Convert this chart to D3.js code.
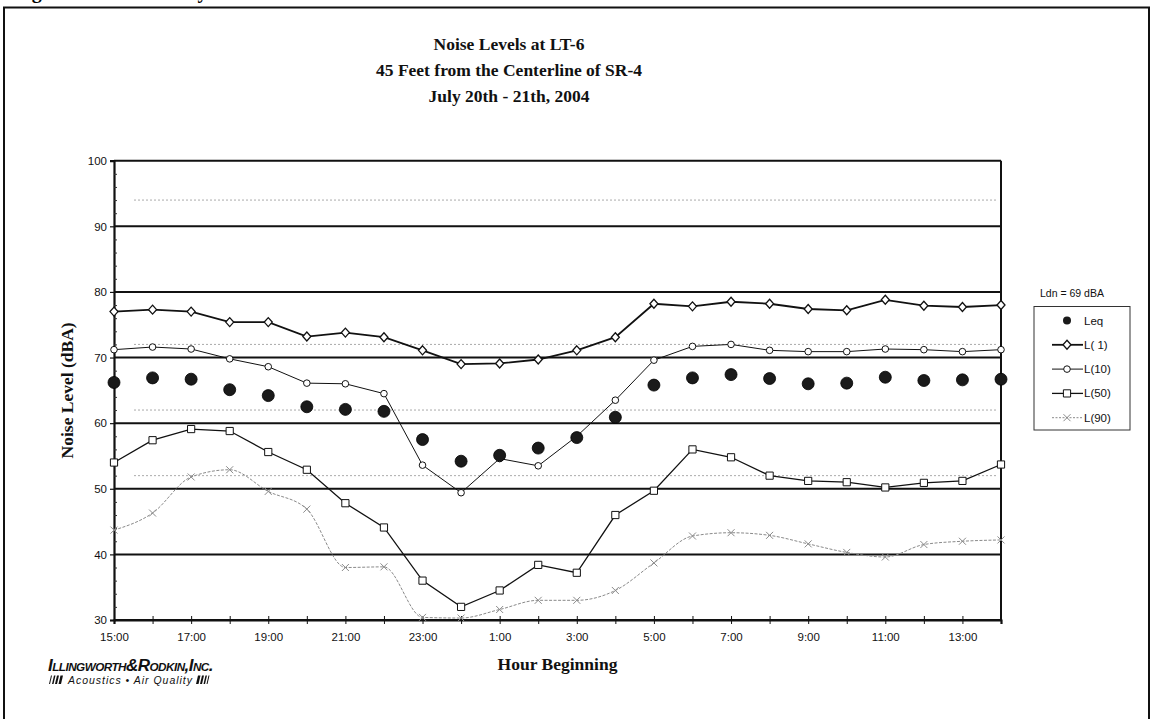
<!DOCTYPE html>
<html><head><meta charset="utf-8">
<script src="https://cdn.jsdelivr.net/npm/d3@7"></script>
<style>
html,body{margin:0;padding:0;background:#fff;}
svg{display:block;}
</style></head>
<body>
<svg id="c" width="1151" height="719"></svg>
<script>
const hours = ["15:00","16:00","17:00","18:00","19:00","20:00","21:00","22:00","23:00","0:00","1:00","2:00","3:00","4:00","5:00","6:00","7:00","8:00","9:00","10:00","11:00","12:00","13:00","14:00"];
const xTickLabels = ["15:00","17:00","19:00","21:00","23:00","1:00","3:00","5:00","7:00","9:00","11:00","13:00"];
const yTicks = [30,40,50,60,70,80,90,100];
const dottedLevels = [94,72,62,52];
const leq  = [66.2,66.9,66.7,65.1,64.2,62.5,62.1,61.8,57.5,54.2,55.1,56.2,57.8,60.9,65.8,66.9,67.4,66.8,66.0,66.1,67.0,66.5,66.6,66.7];
const l1   = [77.0,77.3,77.0,75.4,75.4,73.2,73.8,73.1,71.1,69.0,69.1,69.7,71.1,73.1,78.2,77.8,78.5,78.2,77.4,77.2,78.8,77.9,77.7,78.0];
const l10  = [71.2,71.6,71.3,69.8,68.6,66.1,66.0,64.5,53.6,49.4,54.6,53.5,58.0,63.5,69.6,71.7,72.0,71.1,70.9,70.9,71.3,71.2,70.9,71.2];
const l50  = [54.0,57.4,59.1,58.8,55.6,52.9,47.8,44.1,36.0,32.0,34.5,38.4,37.2,46.0,49.7,56.0,54.8,52.0,51.2,51.0,50.2,50.9,51.2,53.7];
const l90  = [43.7,46.3,51.8,52.9,49.6,46.9,38.0,38.1,30.4,30.3,31.6,33.0,33.0,34.5,38.7,42.8,43.3,42.9,41.6,40.3,39.6,41.5,42.0,42.2];
const titleLines = ["Noise Levels at LT-6","45 Feet from the Centerline of SR-4","July 20th - 21th, 2004"];
const legendNames = ["Leq","L( 1)","L(10)","L(50)","L(90)"];

const svg = d3.select("#c");
const serif = "'Liberation Serif','Times New Roman',serif";
const sans = "'Liberation Sans',Arial,sans-serif";

// cut-off caption above the frame (only descenders visible, as in the scan)
svg.append("text").attr("x",14).attr("y",-2).attr("font-family",serif).attr("font-size",20).attr("font-weight","bold")
  .text("Figure 9");
svg.append("text").attr("x",162).attr("y",-2).attr("font-family",serif).attr("font-size",20).attr("font-weight","bold")
  .text("Daily Trend in Noise Levels at LT-6");

// outer frame
svg.append("rect").attr("x",4).attr("y",7.5).attr("width",1145).attr("height",740)
  .attr("fill","none").attr("stroke","#111").attr("stroke-width",2);

const L = 114, R = 1001, T = 160.7, B = 620;
const x = d3.scaleLinear().domain([0,hours.length-1]).range([L,R]);
const y = d3.scaleLinear().domain([30,100]).range([B,T]);

// dotted faint lines
svg.append("g").selectAll("line").data(dottedLevels).join("line")
  .attr("x1",L+20).attr("x2",R-3).attr("y1",d=>y(d)).attr("y2",d=>y(d))
  .attr("stroke","#aaa").attr("stroke-width",1).attr("stroke-dasharray","2,2");

// major gridlines
svg.append("g").selectAll("line").data(yTicks).join("line")
  .attr("x1",L).attr("x2",R).attr("y1",d=>y(d)).attr("y2",d=>y(d))
  .attr("stroke","#111").attr("stroke-width",2);

// right border
svg.append("line").attr("x1",R).attr("x2",R).attr("y1",T).attr("y2",B).attr("stroke","#111").attr("stroke-width",2);

// y axis
const yAxis = d3.axisLeft(y).tickValues(yTicks).tickSize(4).tickPadding(3).tickFormat(d3.format("d"));
const gy = svg.append("g").attr("transform",`translate(${L},0)`).call(yAxis);
gy.select(".domain").attr("stroke","#111").attr("stroke-width",2.2);
gy.selectAll(".tick line").attr("stroke","#111").attr("stroke-width",1.2);
gy.selectAll("text").attr("font-family",sans).attr("font-size",11.5).attr("fill","#111");
// minor y ticks inside
const yMinor = d3.axisRight(y).tickValues(d3.range(30,101,2).filter(v=>v%10!==0)).tickSize(3).tickFormat("");
const gym = svg.append("g").attr("transform",`translate(${L},0)`).call(yMinor);
gym.select(".domain").remove();
gym.selectAll(".tick line").attr("stroke","#333").attr("stroke-width",1);

// x axis
const xAxis = d3.axisBottom(x).tickValues(d3.range(hours.length)).tickSize(4).tickPadding(9)
  .tickFormat(i => xTickLabels.includes(hours[i]) ? hours[i] : "");
const gx = svg.append("g").attr("transform",`translate(0,${B})`).call(xAxis);
gx.select(".domain").attr("stroke","#111").attr("stroke-width",2.2);
gx.selectAll(".tick line").attr("y1",-4).attr("stroke","#111").attr("stroke-width",1);
gx.selectAll("text").attr("font-family",sans).attr("font-size",11.5).attr("fill","#111");

// titles
svg.append("g").selectAll("text").data(titleLines).join("text")
  .attr("x",509).attr("y",(d,i)=>50+i*25.8).attr("text-anchor","middle")
  .attr("font-family",serif).attr("font-weight","bold").attr("font-size",17.5).attr("fill","#111").text(d=>d);
svg.append("text").attr("x",(L+R)/2).attr("y",670).attr("text-anchor","middle")
  .attr("font-family",serif).attr("font-weight","bold").attr("font-size",17.5).attr("fill","#111").text("Hour Beginning");
svg.append("text").attr("transform",`translate(73,${(T+B)/2}) rotate(-90)`).attr("text-anchor","middle")
  .attr("font-family",serif).attr("font-weight","bold").attr("font-size",17.5).attr("fill","#111").text("Noise Level (dBA)");

// series
const smooth = d3.line().x((d,i)=>x(i)).y(d=>y(d)).curve(d3.curveMonotoneX);
const straight = d3.line().x((d,i)=>x(i)).y(d=>y(d));
const diamond = "M0,-4.5L4,0L0,4.5L-4,0Z";
const square = "M-3.6,-3.6H3.6V3.6H-3.6Z";
const cross = "M-3.5,-3.5L3.5,3.5M-3.5,3.5L3.5,-3.5";

// L90
svg.append("path").attr("d",smooth(l90)).attr("fill","none").attr("stroke","#8a8a8a").attr("stroke-width",1).attr("stroke-dasharray","3,1.5");
svg.append("g").selectAll("path").data(l90).join("path").attr("transform",(d,i)=>`translate(${x(i)},${y(d)})`)
  .attr("d",cross).attr("stroke","#8a8a8a").attr("stroke-width",1).attr("fill","none");
// L50
svg.append("path").attr("d",straight(l50)).attr("fill","none").attr("stroke","#111").attr("stroke-width",1.3);
svg.append("g").selectAll("path").data(l50).join("path").attr("transform",(d,i)=>`translate(${x(i)},${y(d)})`)
  .attr("d",square).attr("stroke","#111").attr("stroke-width",1).attr("fill","#fff");
// L10
svg.append("path").attr("d",straight(l10)).attr("fill","none").attr("stroke","#111").attr("stroke-width",1);
svg.append("g").selectAll("circle").data(l10).join("circle").attr("cx",(d,i)=>x(i)).attr("cy",d=>y(d)).attr("r",3.3)
  .attr("stroke","#111").attr("stroke-width",1).attr("fill","#fff");
// L1
svg.append("path").attr("d",straight(l1)).attr("fill","none").attr("stroke","#111").attr("stroke-width",1.8);
svg.append("g").selectAll("path").data(l1).join("path").attr("transform",(d,i)=>`translate(${x(i)},${y(d)})`)
  .attr("d",diamond).attr("stroke","#111").attr("stroke-width",1.3).attr("fill","#fff");
// Leq
svg.append("g").selectAll("circle").data(leq).join("circle").attr("cx",(d,i)=>x(i)).attr("cy",d=>y(d)).attr("r",6)
  .attr("fill","#1a1a1a").attr("stroke","#000").attr("stroke-width",0.8);

// legend
svg.append("text").attr("x",1040).attr("y",297).attr("font-family",sans).attr("font-size",10.5).attr("fill","#111").text("Ldn = 69 dBA");
svg.append("rect").attr("x",1034).attr("y",306.5).attr("width",96).attr("height",123.5).attr("fill","#fff").attr("stroke","#333").attr("stroke-width",1);
const lg = svg.append("g");
const rows = legendNames.map((n,i)=>({n,i,yy:320.5+i*24.3}));
rows.forEach(r=>{
  const g = lg.append("g").attr("transform",`translate(0,${r.yy})`);
  const cx = 1067;
  if(r.i===0){
    g.append("circle").attr("cx",cx).attr("cy",0).attr("r",4).attr("fill","#1a1a1a");
  } else if(r.i===1){
    g.append("line").attr("x1",1052).attr("x2",1083).attr("stroke","#111").attr("stroke-width",1.8);
    g.append("path").attr("transform",`translate(${cx},0)`).attr("d",diamond).attr("stroke","#111").attr("stroke-width",1.3).attr("fill","#fff");
  } else if(r.i===2){
    g.append("line").attr("x1",1052).attr("x2",1083).attr("stroke","#111").attr("stroke-width",1);
    g.append("circle").attr("cx",cx).attr("cy",0).attr("r",3.3).attr("stroke","#111").attr("fill","#fff");
  } else if(r.i===3){
    g.append("line").attr("x1",1052).attr("x2",1083).attr("stroke","#111").attr("stroke-width",1.3);
    g.append("path").attr("transform",`translate(${cx},0)`).attr("d",square).attr("stroke","#111").attr("fill","#fff");
  } else {
    g.append("line").attr("x1",1052).attr("x2",1083).attr("stroke","#8a8a8a").attr("stroke-width",1).attr("stroke-dasharray","2,1.5");
    g.append("path").attr("transform",`translate(${cx},0)`).attr("d",cross).attr("stroke","#8a8a8a").attr("fill","none");
  }
  g.append("text").attr("x",1084).attr("y",4).attr("font-family",sans).attr("font-size",11.5).attr("fill","#111").text(r.n);
});

// logo
const logo = svg.append("g");
logo.append("text").attr("x",48).attr("y",671).attr("font-family","'Liberation Sans',Arial,sans-serif")
  .attr("font-weight","900").attr("font-style","italic").attr("font-variant","small-caps").attr("font-size",16)
  .attr("fill","#111").attr("textLength",165).attr("lengthAdjust","spacingAndGlyphs").attr("letter-spacing","-0.5")
  .text("Illingworth&Rodkin,Inc.");
// bar graphics
const bars = logo.append("g").attr("fill","#111");
[[49,1],[52,1.5],[55,2],[58.5,2.5],[196,2.5],[200,2],[203.5,1.5],[206.5,1]].forEach(([bx,bw])=>{
  bars.append("path").attr("d",`M${bx+2},${675.5}h${bw}l-2,8.5h${-bw}z`);
});
logo.append("text").attr("x",68).attr("y",683.5).attr("font-family",sans).attr("font-size",10.5).attr("font-style","italic").attr("fill","#111")
  .attr("textLength",124).attr("lengthAdjust","spacing").text("Acoustics \u2022 Air Quality");
</script>
</body></html>
